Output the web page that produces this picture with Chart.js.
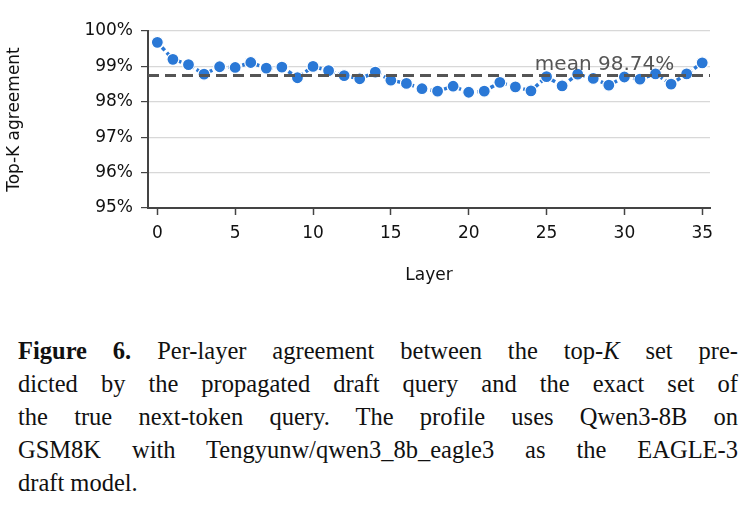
<!DOCTYPE html>
<html><head><meta charset="utf-8">
<script src="https://cdn.jsdelivr.net/npm/chart.js@4.4.0/dist/chart.umd.min.js"></script>
<style>
body{margin:0;background:#fff;width:756px;height:531px;overflow:hidden;position:relative}
#wrap{position:absolute;left:0;top:0;width:756px;height:290px}
#cap{position:absolute;left:18px;top:334px;width:720px;font-family:"Liberation Serif","DejaVu Serif",serif;font-size:24.5px;line-height:33px;color:#111}
#cap div{text-align:justify;text-align-last:justify;white-space:nowrap}
#cap div.last{text-align-last:left}
</style></head><body>
<div id="wrap"><canvas id="c"></canvas></div>
<div id="cap">
<div><b>Figure 6.</b> Per-layer agreement between the top-<i>K</i> set pre-</div>
<div>dicted by the propagated draft query and the exact set of</div>
<div>the true next-token query. The profile uses Qwen3-8B on</div>
<div>GSM8K with Tengyunw/qwen3_8b_eagle3 as the EAGLE-3</div>
<div class="last">draft model.</div>
</div>
<script>
// per-layer top-K agreement (%)
const layers = Array.from({length: 36}, (_, i) => i);
const agreement = [99.68, 99.20, 99.05, 98.78, 98.99, 98.97, 99.11, 98.95, 98.98, 98.68,
  99.00, 98.88, 98.74, 98.65, 98.84, 98.61, 98.52, 98.37, 98.30, 98.44,
  98.27, 98.30, 98.55, 98.42, 98.31, 98.71, 98.45, 98.78, 98.66, 98.47,
  98.70, 98.64, 98.79, 98.50, 98.79, 99.10];
const meanValue = 98.74;
const yTicks = [95, 96, 97, 98, 99, 100];

// dashed mean line + label
const meanLine = {
  id: 'meanLine',
  afterDatasetsDraw(chart) {
    const { ctx, chartArea, scales } = chart;
    const y = scales.y.getPixelForValue(meanValue);
    ctx.save();
    ctx.strokeStyle = '#555';
    ctx.lineWidth = 3;
    ctx.setLineDash([11, 6]);
    ctx.beginPath();
    ctx.moveTo(chartArea.left, y);
    ctx.lineTo(chartArea.right, y);
    ctx.stroke();
    ctx.fillStyle = '#555';
    ctx.font = '20px "DejaVu Sans"';
    ctx.textAlign = 'right';
    ctx.textBaseline = 'bottom';
    ctx.fillText('mean ' + meanValue.toFixed(2) + '%', scales.x.getPixelForValue(33.2), y - 1);
    ctx.restore();
  }
};

const font = { family: 'DejaVu Sans', size: 17 };
new Chart(document.getElementById('c'), {
  type: 'line',
  data: {
    datasets: [{
      data: layers.map((l, i) => ({ x: l, y: agreement[i] })),
      borderColor: '#2a78d6',
      backgroundColor: '#2a78d6',
      pointBorderColor: '#fff',
      pointBorderWidth: 1.2,
      borderWidth: 3.5,
      borderDash: [4, 3],
      pointRadius: 6,
      tension: 0
    }]
  },
  options: {
    responsive: true,
    maintainAspectRatio: false,
    animation: false,
    layout: { padding: { top: 31, right: 46, left: 0, bottom: 0 } },
    plugins: { legend: { display: false }, tooltip: { enabled: false } },
    scales: {
      x: {
        type: 'linear', min: -0.6, max: 35.5,
        afterBuildTicks: s => { s.ticks = [0, 5, 10, 15, 20, 25, 30, 35].map(v => ({ value: v })); },
        afterFit: s => { s.height = 82; },
        grid: { drawOnChartArea: false, tickLength: 7, color: '#444', tickWidth: 1.5 },
        border: { color: '#444', width: 2 },
        ticks: { color: '#111', font, padding: 8 },
        title: { display: true, text: 'Layer', color: '#111', font, padding: { top: 8 } }
      },
      y: {
        min: 95, max: 100,
        afterBuildTicks: s => { s.ticks = yTicks.map(v => ({ value: v })); },
        afterFit: s => { s.width = 148; },
        grid: { color: '#d8d8d8', tickColor: '#444', tickLength: 7, lineWidth: 1.2, tickBorderDash: [0, 0] },
        border: { color: '#444', width: 2 },
        ticks: { color: '#111', font, padding: 8, callback: v => v + '%' },
        title: { display: true, text: 'Top-K agreement', color: '#111', font, padding: { bottom: 0 } }
      }
    }
  },
  plugins: [meanLine]
});
</script>
</body></html>
